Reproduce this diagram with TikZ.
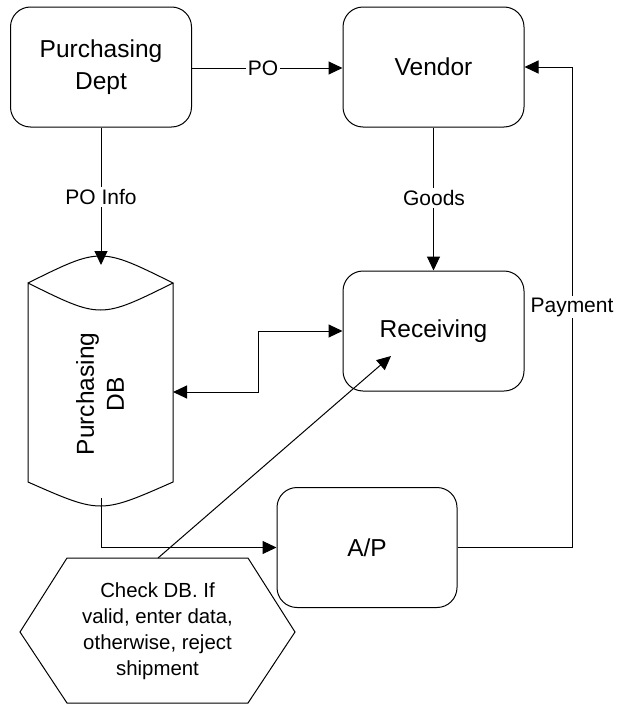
\documentclass[tikz,border=0pt]{standalone}
\usepackage{fontspec}
\setmainfont{Liberation Sans}
\usetikzlibrary{arrows.meta}
\begin{document}
\begin{tikzpicture}[x=1pt,y=-1pt,
  line width=1pt,
  >={Triangle[length=14pt,width=13pt]},
  box/.style={draw,rounded corners=20pt,minimum width=181pt,minimum height=120pt,inner sep=0pt,align=center,
    font=\fontsize{24.5pt}{31.5pt}\selectfont},
  lbl/.style={fill=white,inner sep=2pt,font=\fontsize{21pt}{25pt}\selectfont}]
\useasboundingbox (0,0) rectangle (619,704);
% boxes
\node[box] (pd) at (101,67) {Purchasing\\Dept};
\node[box] (vendor) at (433.5,67) {Vendor};
\node[box] (recv) at (433.5,331) {Receiving};
\node[box,minimum width=180pt] (ap) at (367,547.5) {A/P};
% database cylinder
\draw (28,283) .. controls (100.5,247) .. (173,283)
      .. controls (100.5,319) .. (28,283) -- (28,482)
      .. controls (100.5,514) .. (173,482) -- (173,283);
\node[rotate=90,align=center,font=\fontsize{24.5pt}{30pt}\selectfont] (db) at (100,394) {Purchasing\\DB};
\coordinate (dbtop) at (101,265);
\coordinate (dbbot) at (101,498);
\coordinate (dbr) at (173,392);
\coordinate (bend) at (258,392);
% hexagon
\draw (20,632) -- (67,558) -- (248,558) -- (295,632) -- (248,703) -- (67,703) -- cycle;
\node[align=center,font=\fontsize{20.4pt}{26pt}\selectfont] (hex) at (157.5,631)
  {Check DB. If\\valid, enter data,\\otherwise, reject\\shipment};
\coordinate (hextop) at (158,558);
\coordinate (recvpt) at (391,356);
\coordinate (payc) at (572,547.5);
% connectors
\draw[->] (pd.east |- 0,68) -- (vendor.west |- 0,68);
\draw[->] (pd.south -| dbtop) -- (dbtop);
\draw[->] (vendor.south) -- (recv.north -| vendor.south);
\draw[<->] (dbr) -- (bend) |- (recv.west);
\draw[->] (hextop) -- (recvpt);
\draw[->] (dbbot) |- (ap.west);
\draw[->] (ap.east) -- (payc) |- (vendor.east);
% labels
\node[lbl] (lpo) at (263,68) {PO};
\node[lbl] (lpoi) at (101,197) {PO Info};
\node[lbl] (lgoods) at (434,198) {Goods};
\node[lbl] (lpay) at (572,307) {Payment};
\end{tikzpicture}
\end{document}
